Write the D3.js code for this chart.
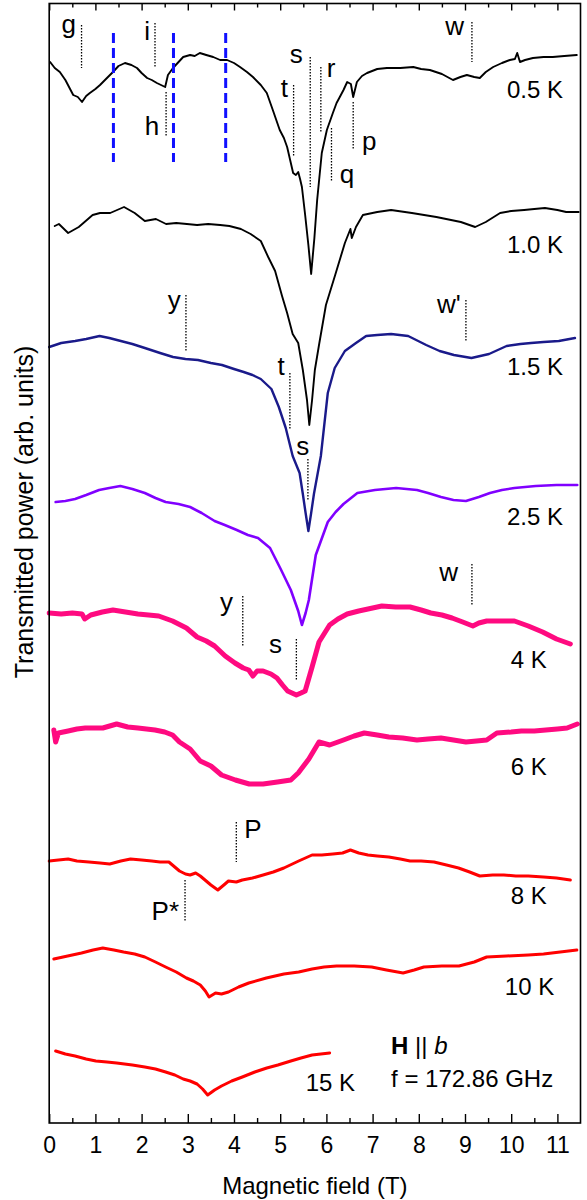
<!DOCTYPE html>
<html><head><meta charset="utf-8">
<script src="https://cdn.jsdelivr.net/npm/d3@7"></script>
<style>
body{margin:0;background:#fff;}
text{font-family:"Liberation Sans", Arial, Helvetica, sans-serif;fill:#000;}
</style>
</head><body>
<svg id="chart" width="587" height="1200"></svg>
<script>
// ---------------- DATA ----------------
const majorTicks = [0,1,2,3,4,5,6,7,8,9,10,11];
const minorTicks = [0.5,1.5,2.5,3.5,4.5,5.5,6.5,7.5,8.5,9.5,10.5];

// [field (T), transmitted power (arb. units, offset)]
const spec05K = [[0.02,1061],[0.12,1055],[0.23,1051],[0.35,1043],[0.52,1028],[0.62,1026],[0.71,1021],[0.8,1027],[0.88,1030],[1.0,1034],[1.1,1038],[1.25,1045],[1.38,1051],[1.5,1057],[1.64,1060],[1.78,1058],[1.9,1055],[2.0,1050],[2.12,1045],[2.22,1043],[2.33,1040],[2.42,1038],[2.51,1036],[2.57,1048],[2.68,1055],[2.78,1060],[2.9,1066],[3.05,1068],[3.15,1067],[3.26,1070],[3.4,1068],[3.55,1066],[3.7,1063],[3.85,1063],[4.0,1060],[4.13,1056],[4.28,1051],[4.41,1046],[4.58,1038],[4.71,1030],[4.84,1013],[4.99,993],[5.08,985],[5.15,976],[5.22,962],[5.28,950],[5.34,948],[5.39,951],[5.43,944],[5.47,936],[5.54,908],[5.61,878],[5.67,849],[5.74,885],[5.8,923],[5.9,970],[6.01,993],[6.14,1010],[6.22,1020],[6.29,1026],[6.37,1033],[6.45,1041],[6.53,1039],[6.58,1026],[6.66,1041],[6.77,1047],[6.88,1050],[7.1,1054],[7.31,1055],[7.6,1055],[7.88,1056],[8.05,1054],[8.24,1053],[8.5,1049],[8.74,1043],[8.9,1046],[9.04,1048],[9.2,1046],[9.32,1045],[9.45,1051],[9.61,1056],[9.8,1060],[9.97,1063],[10.08,1064],[10.13,1070],[10.19,1061],[10.3,1063],[10.47,1065],[10.7,1066],[10.9,1066],[11.15,1067],[11.42,1068]];
const spec10K = [[0.12,897],[0.21,899],[0.41,890],[0.64,896],[0.94,908],[1.1,910],[1.32,910],[1.62,916],[1.85,910],[2.07,902],[2.31,904],[2.53,899],[2.75,900],[2.98,899],[3.2,898],[3.44,899],[3.7,898],[3.9,897],[4.15,894],[4.36,889],[4.58,882],[4.74,866],[4.89,852],[5.04,827],[5.15,810],[5.27,789],[5.39,780],[5.49,753],[5.58,723],[5.63,698],[5.69,723],[5.75,753],[5.84,778],[5.99,818],[6.19,848],[6.4,880],[6.52,894],[6.55,885],[6.64,896],[6.79,908],[7.1,911],[7.4,913],[7.85,910],[8.38,906],[8.91,901],[9.22,896],[9.45,901],[9.76,910],[10.0,912],[10.28,913],[10.5,914],[10.73,915],[11.0,913],[11.19,911],[11.46,911]];
const spec15K = [[0.0,776],[0.26,780],[0.56,782],[0.8,784],[1.09,787],[1.3,785],[1.55,782],[1.8,779],[2.07,775],[2.4,770],[2.68,766],[2.95,764],[3.22,763],[3.5,760],[3.74,758],[4.0,754],[4.21,751],[4.4,748],[4.58,744],[4.81,734],[4.97,716],[5.12,695],[5.27,667],[5.42,650],[5.49,629],[5.55,610],[5.61,592],[5.67,610],[5.73,629],[5.88,667],[6.03,730],[6.18,755],[6.4,772],[6.64,780],[6.86,787],[7.1,788],[7.4,789],[7.77,787],[8.16,778],[8.45,772],[8.76,768],[9.14,765],[9.52,769],[9.9,777],[10.2,779],[10.43,780],[10.7,781],[11.03,782],[11.38,785]];
const spec25K = [[0.14,621],[0.35,622],[0.56,624],[0.8,628],[1.08,633],[1.3,635],[1.54,637],[1.8,634],[2.07,630],[2.3,625],[2.52,621],[2.8,619],[3.05,616],[3.3,610],[3.58,602],[3.8,598],[4.06,593],[4.3,588],[4.52,585],[4.78,575],[5.01,554],[5.23,533],[5.39,512],[5.47,498],[5.55,510],[5.62,523],[5.77,568],[6.03,601],[6.2,611],[6.37,619],[6.67,630],[7.05,633],[7.51,635],[7.96,633],[8.2,630],[8.48,626],[8.75,623],[9.02,622],[9.3,626],[9.54,630],[9.8,633],[10.07,635],[10.53,637],[10.98,638],[11.43,638]];
const spec4K = [[0.0,510],[0.26,509],[0.5,510],[0.71,509],[0.77,504],[0.9,508],[1.15,511],[1.38,513],[1.65,511],[1.92,509],[2.15,508],[2.37,507],[2.67,502],[2.97,495],[3.2,486],[3.4,482],[3.58,477],[3.81,467],[4.02,460],[4.2,455],[4.32,453],[4.41,447],[4.5,452],[4.63,452],[4.8,449],[4.93,445],[5.05,438],[5.16,432],[5.35,428],[5.45,430],[5.54,432],[5.69,456],[5.84,481],[6.07,498],[6.25,504],[6.45,509],[6.7,512],[6.9,514],[7.2,517],[7.5,516],[7.81,516],[8.05,513],[8.26,510],[8.5,508],[8.72,505],[8.95,501],[9.17,497],[9.3,500],[9.47,502],[9.8,502],[10.07,502],[10.37,497],[10.68,491],[10.98,484],[11.28,479]];
const spec6K = [[0.1,393],[0.14,381],[0.2,390],[0.41,392],[0.6,394],[0.78,395],[1.16,395],[1.46,399],[1.7,396],[1.92,395],[2.29,393],[2.5,391],[2.67,388],[2.82,381],[3.05,374],[3.27,362],[3.5,357],[3.73,348],[4.03,343],[4.33,339],[4.63,339],[4.94,341],[5.23,343],[5.39,350],[5.62,364],[5.84,381],[6.07,378],[6.37,383],[6.6,387],[6.82,390],[7.1,388],[7.35,386],[7.65,385],[7.96,383],[8.2,384],[8.48,385],[8.75,383],[9.02,381],[9.25,382],[9.47,383],[9.69,390],[10.0,391],[10.22,392],[10.5,392],[10.75,393],[11.0,394],[11.21,395],[11.43,399]];
const spec8K = [[0.0,262],[0.2,263],[0.41,264],[0.6,262],[0.86,261],[1.1,260],[1.31,259],[1.55,262],[1.76,264],[2.0,263],[2.22,262],[2.4,261],[2.59,261],[2.82,252],[2.95,249],[3.05,248],[3.17,250],[3.27,247],[3.5,238],[3.65,233],[3.78,238],[3.88,242],[4.05,241],[4.18,243],[4.4,245],[4.63,248],[4.85,251],[5.08,255],[5.4,262],[5.69,268],[5.9,268],[6.14,269],[6.35,270],[6.52,273],[6.7,270],[6.9,268],[7.1,267],[7.35,266],[7.6,264],[7.81,262],[8.05,262],[8.33,261],[8.6,258],[8.86,255],[9.1,251],[9.32,247],[9.6,248],[9.84,248],[10.1,247],[10.37,247],[10.7,246],[10.98,245],[11.28,243]];
const spec10Kb = [[0.1,164],[0.4,167],[0.7,170],[0.95,173],[1.16,175],[1.4,173],[1.61,171],[1.85,169],[2.07,166],[2.3,161],[2.52,156],[2.75,151],[2.97,145],[3.12,142],[3.27,138],[3.38,132],[3.46,126],[3.6,130],[3.73,129],[3.88,131],[4.1,136],[4.32,140],[4.7,145],[5.08,149],[5.4,151],[5.69,154],[5.95,156],[6.22,157],[6.6,157],[6.98,156],[7.3,153],[7.66,150],[7.9,153],[8.11,156],[8.5,157],[8.87,157],[9.2,161],[9.47,166],[9.9,167],[10.37,168],[10.7,169],[11.06,171],[11.42,173]];
const spec15Kb = [[0.14,72],[0.35,69],[0.56,67],[0.8,64],[1.01,62],[1.25,61],[1.46,60],[1.8,58],[2.07,56],[2.3,54],[2.52,51],[2.72,48],[2.9,44],[3.05,42],[3.2,39],[3.32,34],[3.43,28],[3.58,33],[3.73,37],[3.95,42],[4.18,46],[4.45,51],[4.71,55],[4.95,58],[5.23,62],[5.45,65],[5.69,68],[5.88,69],[6.07,70]];

const temperatures = ["0.5 K","1.0 K","1.5 K","2.5 K","4 K","6 K","8 K","10 K","15 K"];
const spectra = [spec05K, spec10K, spec15K, spec25K, spec4K, spec6K, spec8K, spec10Kb, spec15Kb];
const traceColors = ["#000000","#000000","#1a1a8a","#8000ff","#ff0a80","#ff0a80","#ff0000","#ff0000","#ff0000"];
const traceWidths = [1.9,1.9,2.4,2.6,5,5,3,3,3];
const tempLabelField = [11.12,11.12,11.12,11.12,10.77,10.77,10.77,10.93,6.62];
const tempLabelValue = [1025,870,748,598,455,348,219,128,32];

// dotted resonance markers
const markNames  = ["g","i","h","t","s","r","q","p","w","y","w'","t","s","w","y","s","P","P*"];
const markField  = [0.70,2.29,2.53,5.29,5.65,5.88,6.11,6.58,9.15,2.96,9.02,5.21,5.60,9.15,4.19,5.35,4.05,2.94];
const markFrom   = [1055,1056,986,967,936,990,941,973,1061,772,781,694,623,518,477,443,261,201];
const markTo     = [1098,1100,1031,1038,1066,1056,995,1021,1101,828,823,750,664,559,527,484,301,243];
const markLabelF = [0.58,2.18,2.38,5.17,5.49,6.01,6.29,6.77,8.98,2.85,8.91,5.10,5.49,8.85,3.98,5.04,4.22,2.81];
const markLabelV = [1090,1083,988,1026,1060,1046,940,973,1088,814,810,748,668,542,512,470,285,203];
const markAnchor = ["end","end","end","end","end","start","start","start","end","end","end","end","middle","end","end","end","start","end"];

// blue dashed guides
const guideField = [1.39,2.69,3.82];
const guideFrom = 961, guideTo = 1090;

// ---------------- CHART ----------------
const svg = d3.select("#chart");
const mLeft = 49.2, mRight = 580.5, mTop = 3.5, mBottom = 1123;
const x = d3.scaleLinear().domain([0, 11.5]).range([mLeft, mRight]);
const y = d3.scaleLinear().domain([0, 1119.5]).range([mBottom, mTop]);

const line = d3.line().x(d => x(d[0])).y(d => y(d[1]));
spectra.forEach((s, i) => {
  svg.append("path").attr("d", line(s)).attr("fill","none")
    .attr("stroke", traceColors[i]).attr("stroke-width", traceWidths[i])
    .attr("stroke-linejoin","round").attr("stroke-linecap","round");
  svg.append("text").attr("x", x(tempLabelField[i])).attr("y", y(tempLabelValue[i]))
    .attr("text-anchor","end").attr("font-size", 24).text(temperatures[i]);
});

guideField.forEach(f => {
  svg.append("line").attr("x1", x(f)).attr("x2", x(f)).attr("y1", y(guideTo)).attr("y2", y(guideFrom))
    .attr("stroke","#1010ff").attr("stroke-width",3).attr("stroke-dasharray","10,5");
});

markNames.forEach((n, i) => {
  svg.append("line").attr("x1", x(markField[i])).attr("x2", x(markField[i]))
    .attr("y1", y(markTo[i])).attr("y2", y(markFrom[i]))
    .attr("stroke","#000").attr("stroke-width",1.3).attr("stroke-dasharray","1.5,1.5");
  svg.append("text").attr("x", x(markLabelF[i])).attr("y", y(markLabelV[i]))
    .attr("text-anchor", markAnchor[i]).attr("font-size", 26).text(n);
});

const hb = svg.append("text").attr("x", x(7.40)).attr("y", y(69)).attr("font-size", 24);
hb.append("tspan").attr("font-weight","bold").text("H");
hb.append("tspan").text(" || ");
hb.append("tspan").attr("font-style","italic").text("b");
svg.append("text").attr("x", x(7.40)).attr("y", y(36)).attr("font-size", 24).text("f = 172.86 GHz");

const gB = svg.append("g").attr("transform", `translate(0,${mBottom})`)
  .call(d3.axisBottom(x).tickValues(majorTicks).tickSize(-9).tickPadding(14).tickFormat(d3.format("d")));
gB.selectAll("text").attr("font-size", 23).attr("font-family", "Liberation Sans, Arial, sans-serif").attr("fill","#000");
const gBm = svg.append("g").attr("transform", `translate(0,${mBottom})`)
  .call(d3.axisBottom(x).tickValues(minorTicks).tickSize(-5).tickFormat(""));
const gT = svg.append("g").attr("transform", `translate(0,${mTop})`)
  .call(d3.axisTop(x).tickValues(majorTicks).tickSize(-7).tickFormat(""));
const gTm = svg.append("g").attr("transform", `translate(0,${mTop})`)
  .call(d3.axisTop(x).tickValues(minorTicks).tickSize(-4).tickFormat(""));
[gB,gBm,gT,gTm].forEach(g => { g.select(".domain").remove(); g.selectAll("line").attr("stroke","#000").attr("stroke-width",1.4); });

svg.append("rect").attr("x", mLeft).attr("y", mTop).attr("width", mRight-mLeft).attr("height", mBottom-mTop)
  .attr("fill","none").attr("stroke","#000").attr("stroke-width",1.6);

svg.append("text").attr("x", (mLeft+mRight)/2).attr("y", 1194).attr("text-anchor","middle")
  .attr("font-size", 24).text("Magnetic field (T)");
svg.append("text").attr("transform", "translate(33,512) rotate(-90)").attr("text-anchor","middle")
  .attr("font-size", 25).text("Transmitted power (arb. units)");
</script>
</body></html>
